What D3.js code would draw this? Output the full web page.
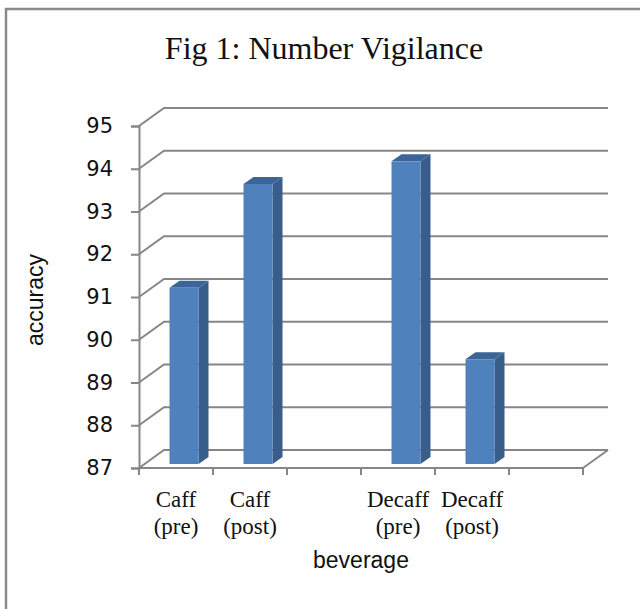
<!DOCTYPE html>
<html><head><meta charset="utf-8">
<script src="https://cdn.jsdelivr.net/npm/d3@7"></script>
<style>body{margin:0;background:#fff} svg{display:block}</style>
</head><body>
<script>
const title = "Fig 1: Number Vigilance";
const categories = ["Caff (pre)", "Caff (post)", "", "Decaff (pre)", "Decaff (post)", ""];
const values = [91.12, 93.55, null, 94.08, 89.45, null];
const yTicks = [87, 88, 89, 90, 91, 92, 93, 94, 95];
const xTitle = "beverage";
const yTitle = "accuracy";

const W = 640, H = 609;
const svg = d3.select("body").append("svg").attr("width", W).attr("height", H);

// frame
svg.append("rect").attr("x", 6).attr("y", 9).attr("width", 700).attr("height", 700)
  .attr("fill", "#fff").attr("stroke", "#8a8a8a").attr("stroke-width", 2.5);

const x = d3.scaleBand().domain(d3.range(categories.length)).range([139, 583]);
const y = d3.scaleLinear().domain([87, 95]).range([468, 126]);
const DX = 25, DY = -18;
const gridColor = "#868686";

const g = svg.append("g");
// back wall + side wall gridlines
yTicks.forEach(t => {
  const yf = y(t);
  g.append("path")
    .attr("d", `M${x.range()[0]},${yf} L${x.range()[0] + DX},${yf + DY} L${x.range()[1] + DX},${yf + DY}`)
    .attr("fill", "none").attr("stroke", gridColor).attr("stroke-width", 2);
});
// floor right diagonal
g.append("path")
  .attr("d", `M${x.range()[1]},${y(87)} L${x.range()[1] + DX},${y(87) + DY}`)
  .attr("stroke", gridColor).attr("stroke-width", 2);

// y axis
const yAxis = d3.axisLeft(y).tickValues(yTicks).tickSize(8).tickPadding(18).tickFormat(d3.format("d"));
const ya = svg.append("g").attr("transform", `translate(${x.range()[0]},0)`).call(yAxis);
ya.select(".domain").attr("stroke", gridColor).attr("stroke-width", 2);
ya.selectAll(".tick line").attr("stroke", gridColor).attr("stroke-width", 2);
ya.selectAll(".tick text").attr("font-family", "DejaVu Sans, sans-serif")
  .attr("font-size", 21).attr("fill", "#111");

// x axis
const xa = svg.append("g").attr("transform", `translate(0,${y(87)})`);
xa.append("line").attr("x1", x.range()[0]).attr("x2", x.range()[1]).attr("y1", 0).attr("y2", 0)
  .attr("stroke", gridColor).attr("stroke-width", 2);
const bounds = categories.map((c, i) => x(i)).concat([x.range()[1]]);
xa.selectAll("line.tk").data(bounds).join("line").attr("class", "tk")
  .attr("x1", d => d).attr("x2", d => d).attr("y1", 0).attr("y2", 7)
  .attr("stroke", gridColor).attr("stroke-width", 2);

// bars
const bw = 29, sideX = 10, sideY = -7, faceDY = -4, shift = 8;
const barData = values.map((v, i) => ({ v, i })).filter(d => d.v != null);
const bars = svg.append("g").selectAll("g").data(barData).join("g");
bars.each(function(d) {
  const L = x(d.i) + x.bandwidth() / 2 + shift - bw / 2;
  const top = y(d.v) + faceDY, bot = y(87) + faceDY;
  const sel = d3.select(this);
  sel.append("path").attr("fill", "#385D8A")
    .attr("d", `M${L + bw},${top} L${L + bw + sideX},${top + sideY} L${L + bw + sideX},${bot + sideY} L${L + bw},${bot} Z`);
  sel.append("path").attr("fill", "#3B6497")
    .attr("d", `M${L},${top} L${L + sideX},${top + sideY} L${L + bw + sideX},${top + sideY} L${L + bw},${top} Z`);
  sel.append("rect").attr("fill", "#4F81BD")
    .attr("x", L).attr("y", top).attr("width", bw).attr("height", bot - top);
});

// category labels
const cl = svg.append("g").selectAll("text").data(categories).join("text")
  .attr("font-family", "Liberation Serif, Times New Roman, serif").attr("font-size", 23)
  .attr("fill", "#111").attr("text-anchor", "middle");
cl.each(function(c, i) {
  const parts = c.split(" ");
  const t = d3.select(this);
  parts.forEach((p, k) => {
    t.append("tspan").attr("x", x(i) + x.bandwidth() / 2).attr("y", 507 + k * 27).text(p);
  });
});

// axis titles
svg.append("text").attr("x", (x.range()[0] + x.range()[1]) / 2).attr("y", 568)
  .attr("text-anchor", "middle").attr("font-family", "Liberation Sans, Arial, sans-serif")
  .attr("font-size", 23).attr("fill", "#111").text(xTitle);
svg.append("text").attr("transform", "translate(43,300) rotate(-90)")
  .attr("text-anchor", "middle").attr("font-family", "Liberation Sans, Arial, sans-serif")
  .attr("font-size", 23).attr("fill", "#111").text(yTitle);

// title
svg.append("text").attr("x", 324).attr("y", 59).attr("text-anchor", "middle")
  .attr("font-family", "Liberation Serif, Times New Roman, serif").attr("font-size", 32)
  .attr("fill", "#111").text(title);
</script>
</body></html>
